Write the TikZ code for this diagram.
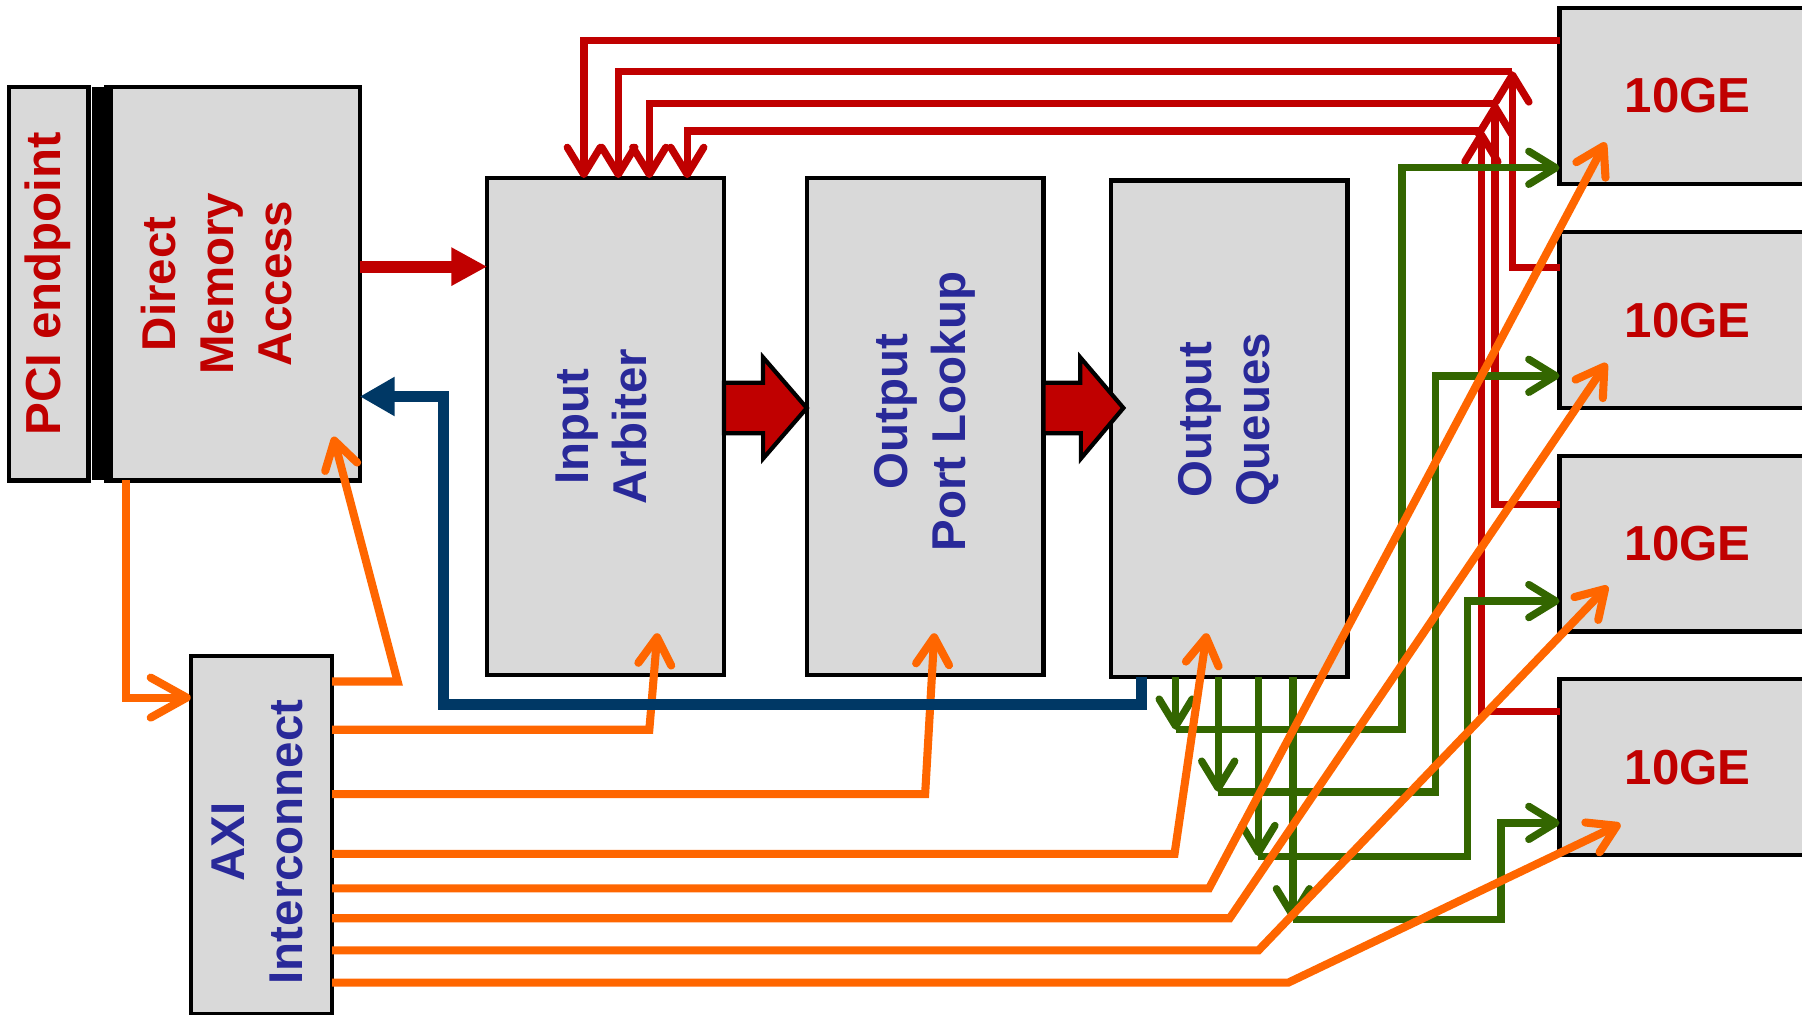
\documentclass[tikz,border=0pt]{standalone}
\usepackage{fontspec}
\setmainfont{Liberation Sans}
\usetikzlibrary{positioning,calc,arrows.meta}
\definecolor{boxgray}{RGB}{217,217,217}
\definecolor{netred}{RGB}{192,0,0}
\definecolor{netblue}{RGB}{41,41,153}
\definecolor{busnavy}{RGB}{0,56,101}
\definecolor{axiorange}{RGB}{255,102,0}
\definecolor{pktgreen}{RGB}{51,102,0}
% optional argument moves the text up the box
\newcommand{\vlabel}[2][0pt]{\rotatebox{90}{\hspace*{#1}\begin{tabular}{@{}c@{}}#2\end{tabular}}}

\begin{document}
\begin{tikzpicture}[x=0.11492mm,y=-0.11492mm,
   blk/.style={draw=black,line width=1.2pt,fill=boxgray,inner sep=0pt,outer sep=0pt,
               font=\fontsize{13.5}{16.5}\selectfont\bfseries,text=netblue},
   port/.style={blk,text=netred,font=\fontsize{14}{17}\selectfont\bfseries,
               minimum width=2.563cm,minimum height=1.758cm},
   stage/.style={blk,minimum width=2.367cm,minimum height=4.965cm},
   barb/.style={-{Straight Barb[length=2.7mm,width=3.3mm,round]},line width=2.1pt},
   rd/.style={barb,draw=netred},
   og/.style={barb,draw=axiorange,line width=2.3pt},
   gr/.style={barb,draw=pktgreen},
   fat/.style={draw=black,line width=1.2pt,fill=netred,line join=miter}]
  \useasboundingbox (0,0) rectangle (1568,883);
  \clip (0,0) rectangle (1568,883);
  % blocks
  \node[blk,text=netred,font=\fontsize{14}{17}\selectfont\bfseries,minimum width=0.793cm,
        minimum height=3.93cm] (pci) at (42.5,247) {\vlabel{PCI endpoint}};
  \node[blk,text=netred,minimum width=2.54cm,minimum height=3.93cm] (dma) at (202.5,247)
        {\vlabel{Direct\\Memory\\Access\\[6pt]}};
  \node[fill=black,inner sep=0pt,minimum width=0.207cm,minimum height=3.93cm] (bar) at (89,247) {};
  \node[stage] (ia) at (527,371) {\vlabel{Input\\Arbiter}};
  \node[stage] (opl) at (805,371) {\vlabel[8.5pt]{Output\\Port Lookup}};
  \node[stage] (oq) at (1069.5,373) {\vlabel[5pt]{Output\\Queues}};
  \node[blk,minimum width=1.414cm,minimum height=3.574cm] (axi) at (227.5,726.5)
        {\vlabel[-4pt]{AXI\\Interconnect}};
  \foreach \k/\yy in {1/83.5,2/278.5,3/473,4/667.5}
    \node[port] (ge\k) at (1468.5,\yy) {10GE};

  % register ports
  \coordinate (dmap) at (290,380);
  \coordinate (iap) at (572,551);
  \coordinate (oplp) at (813,551);
  \coordinate (oqp) at (1050,551);
  \coordinate (gep1) at (1397,124);
  \coordinate (gep2) at (1398,316);
  \coordinate (gep3) at (1399,510);
  \coordinate (gep4) at (1410,717);

  % receive path
  \draw[rd] (ge1.west |- 0,35) -| (ia.north -| 508,0);
  \foreach \k/\yy/\xc/\yc/\xa in {2/233/1316/62/538,3/439/1301/90/565,4/619/1289/114/598}{
    \coordinate (up\k) at (\xc,\yc);
    \draw[rd] (ge\k.west |- 0,\yy) -| (up\k);
    \draw[rd] (up\k) -| (ia.north -| \xa,0);
  }
  \draw[draw=netred,line width=3.4pt,-{Triangle[length=3.6mm,width=3.6mm]}]
        (dma.east |- 0,232) -- (ia.west |- 0,232);
  \draw[fat] (ia.east |- 0,333) -- ++(34,0) -- ++(0,-22) -- (opl.west |- 0,355)
        -- ++(-38,44) -- ++(0,-22) -- (ia.east |- 0,377) -- cycle;
  \draw[fat] (opl.east |- 0,333) -- ++(32,0) -- ++(0,-22) -- ($(oq.west |- 0,355)+(11,0)$)
        -- ++(-37,44) -- ++(0,-22) -- (opl.east |- 0,377) -- cycle;

  % transmit path
  \foreach \k/\xs/\yh/\xv/\ya in {1/1023/635/1220/146,2/1060/689/1249/327,
                                  3/1095/745/1277/523,4/1125/800/1306/716}{
    \coordinate (dn\k) at (\xs,\yh);
    \draw[gr] (oq.south -| \xs,0) -- (dn\k);
    \draw[gr] (dn\k) -| (\xv,\ya) -- (ge\k.west |- 0,\ya);
  }

  % AXI lite
  \draw[og,-{Straight Barb[length=3.6mm,width=4mm,round]}] (dma.south -| 110,0) |- (axi.west |- 0,607);
  \draw[og] (axi.east |- 0,593) -- (346,593) -- (dmap);
  \foreach \yy/\xc/\tip in {635/565/iap,691/805/oplp,743/1022/oqp,773/1052/gep1,
                            799/1070/gep2,827/1095/gep3,855/1121/gep4}
    \draw[og] (axi.east |- 0,\yy) -- (\xc,\yy) -- (\tip);

  % DMA return
  \draw[draw=busnavy,line width=3.2pt,-{Triangle[length=3.5mm,width=3.7mm]}]
        (oq.south -| 993,0) |- (386,613) |- (dma.east |- 0,345);
\end{tikzpicture}
\end{document}
